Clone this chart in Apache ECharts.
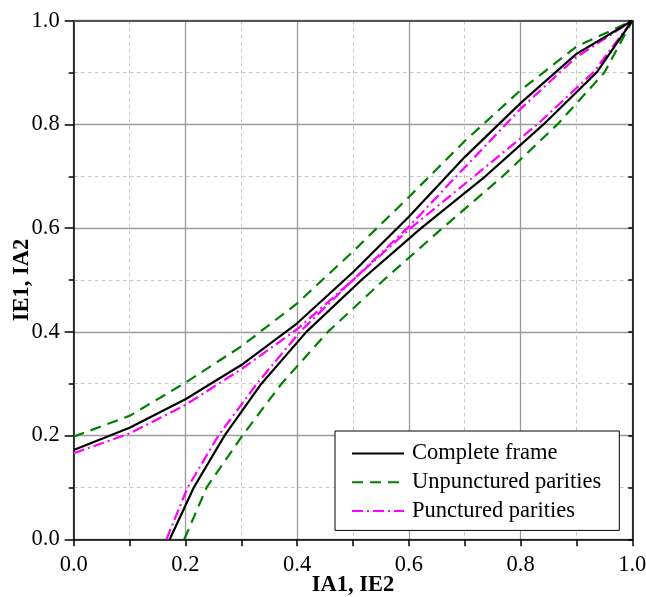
<!DOCTYPE html>
<html>
<head>
<meta charset="utf-8">
<script src="https://cdn.jsdelivr.net/npm/echarts@6/dist/echarts.min.js"></script>
<style>
html,body{margin:0;padding:0;background:#fff;}
#chart{width:646px;height:597px;}
</style>
</head>
<body>
<div id="chart"></div>
<script>
// A priori input (IA1 for the upper curves, IE1 for the mirrored lower curves)
const IA = [0.0, 0.1, 0.2, 0.3, 0.4, 0.5, 0.6, 0.7, 0.8, 0.9, 1.0];
// Extrinsic output
const completeIE    = [0.172, 0.215, 0.270, 0.336, 0.4165, 0.515, 0.622, 0.737, 0.841, 0.936, 1.0];
const unpuncturedIE = [0.198, 0.238, 0.302, 0.372, 0.455, 0.555, 0.660, 0.768, 0.866, 0.950, 1.0];
const puncturedIE   = [0.166, 0.204, 0.259, 0.328, 0.405, 0.500, 0.603, 0.717, 0.830, 0.930, 1.0];
const seriesNames = ['Complete frame', 'Unpunctured parities', 'Punctured parities'];
const tickLabels = ['0.0', '0.2', '0.4', '0.6', '0.8', '1.0'];

const FONT = 'Liberation Serif';
const styles = [
  { color: '#000000', type: 'solid', width: 2.2 },
  { color: '#008000', type: [11, 7], width: 2.2 },
  { color: '#ff00ff', type: [11, 4, 2, 4], width: 2.2 }
];
const sets = [completeIE, unpuncturedIE, puncturedIE];

const series = [];
sets.forEach((ie, k) => {
  const upper = IA.map((x, i) => [x, ie[i]]);
  const lower = IA.map((x, i) => [ie[i], x]);
  [upper, lower].forEach(d => {
    series.push({
      name: seriesNames[k],
      type: 'line',
      data: d,
      symbol: 'none',
      showSymbol: false,
      smooth: false,
      xAxisIndex: 0,
      yAxisIndex: 0,
      z: 10 - k,
      lineStyle: { color: styles[k].color, type: styles[k].type, width: styles[k].width },
      itemStyle: { color: styles[k].color },
      emphasis: { disabled: true }
    });
  });
});

function fmt(v) {
  const idx = Math.round(v / 0.2);
  return tickLabels[idx] !== undefined ? tickLabels[idx] : '';
}

const chart = echarts.init(document.getElementById('chart'), null, { renderer: 'canvas' });
chart.setOption({
  animation: false,
  backgroundColor: '#fff',
  grid: { left: 73.7, right: 13.7, top: 20.7, bottom: 57.7, containLabel: false, outerBoundsMode: 'none' },
  legend: {
    orient: 'vertical',
    left: 335,
    top: 431,
    padding: [11, 18, 8, 16],
    itemWidth: 52,
    itemHeight: 14,
    itemGap: 5.7,
    borderColor: '#000',
    borderWidth: 1,
    backgroundColor: '#fff',
    borderRadius: 0,
    data: seriesNames,
    textStyle: { fontFamily: FONT, fontSize: 22.5, color: '#000', lineHeight: 23, padding: [0, 0, 0, 3] },
    itemStyle: { opacity: 0 },
    lineStyle: { width: 2, opacity: 1 }
  },
  xAxis: [
    {
      type: 'value', min: 0, max: 1, interval: 0.2, position: 'bottom',
      name: 'IA1, IE2', nameLocation: 'middle', nameGap: 34, nameMoveOverlap: false,
      nameTextStyle: { fontFamily: FONT, fontSize: 22.5, fontWeight: 'bold', color: '#000' },
      axisLine: { show: true, onZero: false, lineStyle: { color: '#000', width: 1.5 } },
      axisTick: { show: true, length: 7, lineStyle: { color: '#000', width: 1.5 } },
      minorTick: { show: true, splitNumber: 2, length: 7, lineStyle: { color: '#000', width: 1.5 } },
      axisLabel: { formatter: fmt, fontFamily: FONT, fontSize: 22.5, color: '#000', margin: 14 },
      splitLine: { show: true, lineStyle: { color: '#9a9a9a', width: 1.3 } },
      minorSplitLine: { show: true, lineStyle: { color: '#c8c8c8', width: 1, type: [4, 3] } }
    },
    {
      type: 'value', min: 0, max: 1, position: 'top',
      axisLine: { show: true, onZero: false, lineStyle: { color: '#555', width: 2 } },
      axisTick: { show: false }, axisLabel: { show: false }, splitLine: { show: false }
    }
  ],
  yAxis: [
    {
      type: 'value', min: 0, max: 1, interval: 0.2, position: 'left',
      name: 'IE1, IA2', nameLocation: 'middle', nameGap: 40, nameMoveOverlap: false,
      nameTextStyle: { fontFamily: FONT, fontSize: 22.5, fontWeight: 'bold', color: '#000' },
      axisLine: { show: true, onZero: false, lineStyle: { color: '#000', width: 1.5 } },
      axisTick: { show: true, length: 9, lineStyle: { color: '#000', width: 1.5 } },
      minorTick: { show: true, splitNumber: 2, length: 5, lineStyle: { color: '#000', width: 1.5 } },
      axisLabel: { formatter: fmt, fontFamily: FONT, fontSize: 22.5, color: '#000', margin: 14 },
      splitLine: { show: true, lineStyle: { color: '#9a9a9a', width: 1.3 } },
      minorSplitLine: { show: true, lineStyle: { color: '#c8c8c8', width: 1, type: [4, 3] } }
    },
    {
      type: 'value', min: 0, max: 1, interval: 0.1, position: 'right',
      axisLine: { show: true, onZero: false, lineStyle: { color: '#000', width: 1.5 } },
      axisTick: { show: true, inside: true, length: 4, lineStyle: { color: '#000', width: 1.5 } },
      axisLabel: { show: false }, splitLine: { show: false }
    }
  ],
  series: series
});
</script>
</body>
</html>
